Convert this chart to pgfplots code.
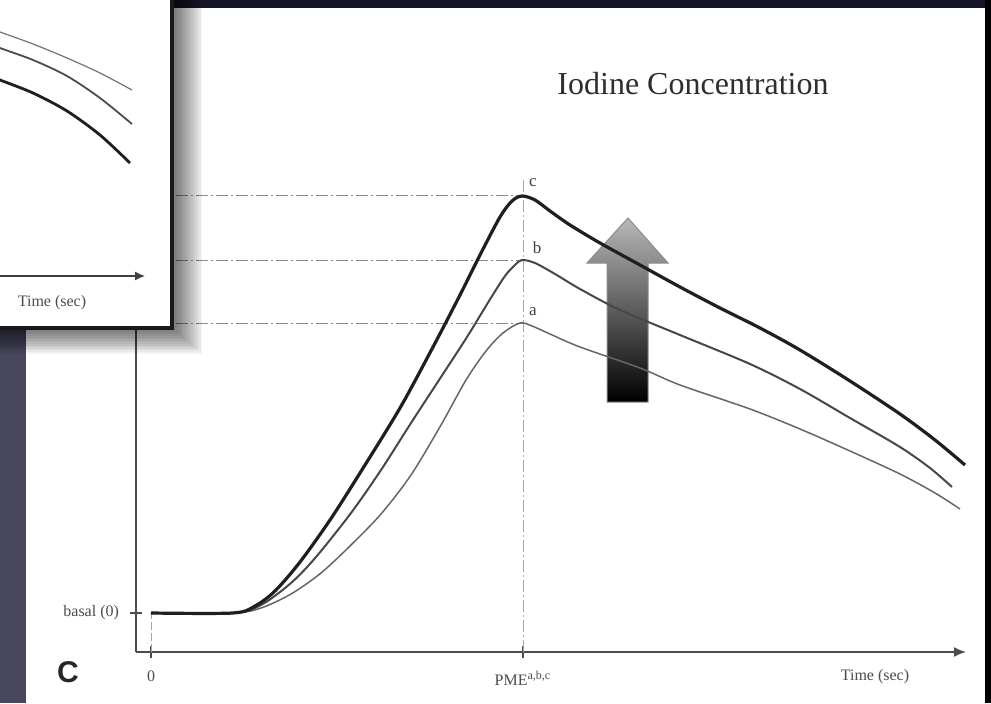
\documentclass[border=0pt]{standalone}
\usepackage{fontspec}
\setmainfont{Liberation Serif}
\setsansfont{Liberation Sans}
\usepackage{pgfplots}
\pgfplotsset{compat=1.18}
\usetikzlibrary{arrows.meta}
\definecolor{slate}{HTML}{47465C}
\definecolor{topband}{HTML}{16162A}

\begin{document}
\begin{tikzpicture}[x=0.5pt,y=0.5pt]
\path[use as bounding box, clip] (0,0) rectangle (991,703);
% slide background
\fill[slate] (0,0) rectangle (991,703);
\fill[topband] (0,695) rectangle (991,703);
\fill[black] (985,0) rectangle (991,703);
\fill[white] (26,0) rectangle (985,695);

% gradient arrow (behind curves)
\shade[top color=black!28, bottom color=black, draw=black!45, line width=0.5pt]
 (607,301) -- (607,440) -- (587,440) -- (628,485) -- (668,440) -- (648,440) -- (648,301) -- cycle;

% main axis
\begin{axis}[
  at={(68pt,25.5pt)}, anchor=south west,
  scale only axis, width=415pt, height=314.5pt,
  xmin=-15, xmax=815, ymin=-39, ymax=590,
  axis lines=left,
  axis line style={black!70, line width=0.8pt, -{Latex[length=6pt,width=5pt]}},
  xtick={0,372}, xticklabels={0, PME\textsuperscript{a,b,c}},
  ytick={0}, yticklabels={basal (0)},
  tick align=center, major tick length=6pt,
  tick style={black!70, line width=0.6pt},
  ticklabel style={font=\fontsize{8}{9}\selectfont, text=black!70},
  xticklabel style={yshift=-3pt},
  yticklabel style={xshift=-2pt},
  clip=false,
]
% reference lines
\addplot[black!45, line width=0.5pt, dash pattern=on 6pt off 1.5pt on 1pt off 1.5pt] coordinates {(-15,417) (372,417)};
\addplot[black!45, line width=0.5pt, dash pattern=on 6pt off 1.5pt on 1pt off 1.5pt] coordinates {(-15,353) (372,353)};
\addplot[black!45, line width=0.5pt, dash pattern=on 6pt off 1.5pt on 1pt off 1.5pt] coordinates {(-15,290) (372,290)};
\addplot[black!35, line width=0.5pt, dash pattern=on 6pt off 1.5pt on 1pt off 1.5pt] coordinates {(372,-39) (372,433)};
\addplot[black!35, line width=0.5pt, dash pattern=on 4pt off 1.5pt] coordinates {(0,-39) (0,0)};
% curve a
\addplot[black!60, line width=0.75pt, smooth, tension=0.5] coordinates {
(0,0) (82,0) (110,5) (140,19) (170,40) (200,68) (230,99) (260,138) (290,188)
(315,233) (335,262) (352,280) (369,290) (381,287) (399,279) (429,266) (489,245)
(529,228) (599,204) (649,184) (699,162) (749,139) (784,120) (809,104)};
% curve b
\addplot[black!72, line width=1.0pt, smooth, tension=0.5] coordinates {
(0,0) (82,0) (110,8) (140,30) (165,56) (200,100) (230,143) (260,190) (290,236)
(316,276) (338,312) (354,337) (364,348) (371,353) (384,350) (404,339) (429,324)
(469,303) (529,278) (599,249) (649,224) (699,195) (749,166) (779,145) (801,126)};
% curve c
\addplot[black!88, line width=1.6pt, smooth, tension=0.5] coordinates {
(0,0) (82,0) (104,7) (124,22) (149,51) (179,93) (209,140) (249,205) (282,266)
(309,318) (329,358) (349,396) (361,412) (371,417) (384,413) (399,402) (419,388)
(449,370) (489,348) (529,326) (569,305) (609,285) (649,263) (699,232) (749,199)
(784,173) (814,148)};
\node[font=\fontsize{8.5}{9}\selectfont, text=black!75] at (axis cs:382,301) {a};
\node[font=\fontsize{8.5}{9}\selectfont, text=black!75] at (axis cs:386,365) {b};
\node[font=\fontsize{8.5}{9}\selectfont, text=black!75] at (axis cs:382,430) {c};
\node[font=\fontsize{8}{9}\selectfont, text=black!70] at (axis cs:724,-64) {Time (sec)};
\end{axis}

% title and panel letter
\node[font=\fontsize{16}{18}\selectfont, text=black!82] at (693,619) {Iodine Concentration};
\node[font=\sffamily\bfseries\fontsize{15}{16}\selectfont, text=black!85] at (68,31) {C};

% inset shadow
\foreach \i in {1,...,16} {
  \fill[black, opacity=0.045] (-5,{375-1.6*\i}) rectangle ({172+1.9*\i},710);
}
\fill[white, draw=black!90, line width=1.6pt] (-5,375) rectangle (172,712);

% inset axis
\begin{axis}[
  at={(-10pt,213.5pt)}, anchor=south west,
  scale only axis, width=82.5pt, height=140pt,
  xmin=-20, xmax=145, ymin=0, ymax=280,
  axis x line=bottom, axis y line=none,
  axis line style={black!75, line width=0.7pt, -{Latex[length=5pt,width=4.5pt]}},
  xtick=\empty, ytick=\empty,
  clip=false,
]
\addplot[black!55, line width=0.6pt, smooth] coordinates {
(-20,251) (0,244) (33,232) (67,218) (100,203) (132,186)};
\addplot[black!70, line width=0.9pt, smooth] coordinates {
(-20,236) (0,228) (33,216) (67,200) (100,178) (132,152)};
\addplot[black!88, line width=1.4pt, smooth] coordinates {
(-20,204) (0,196) (33,183) (67,165) (100,141) (130,113)};
\node[font=\fontsize{8}{9}\selectfont, text=black!70] at (axis cs:52,-27) {Time (sec)};
\end{axis}
\end{tikzpicture}
\end{document}
